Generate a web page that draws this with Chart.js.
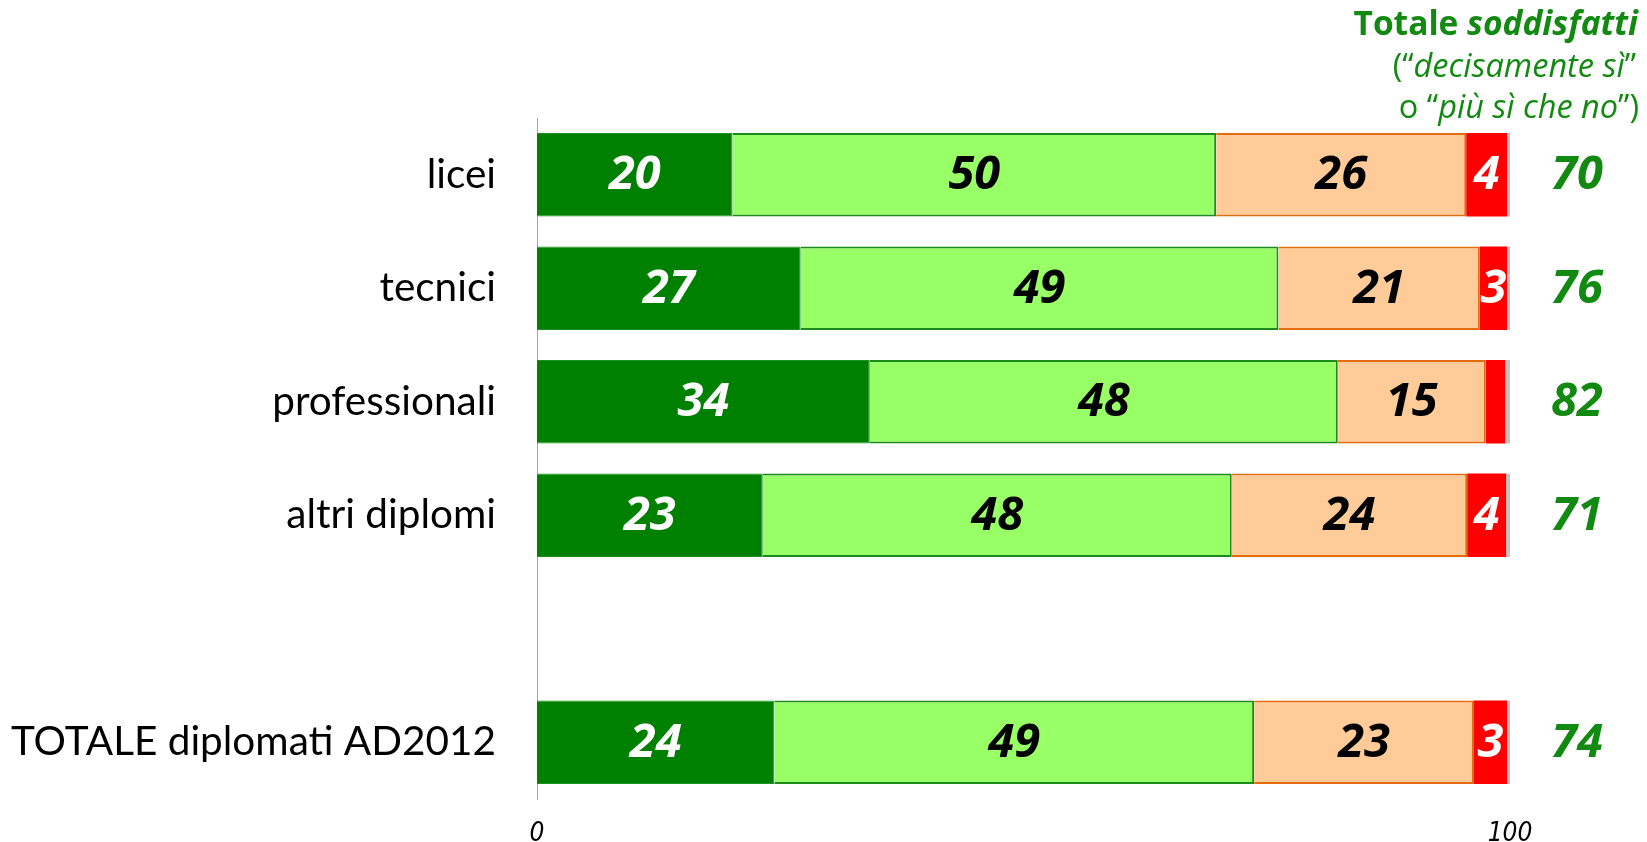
<!DOCTYPE html>
<html>
<head>
<meta charset="utf-8">
<script src="https://cdn.jsdelivr.net/npm/chart.js@4"></script>
<style>
  html, body { margin: 0; padding: 0; background: #fff; }
  #wrap { width: 1647px; height: 842px; }
</style>
</head>
<body>
<div id="wrap"><canvas id="grafico"></canvas></div>
<script>
// Categorie (la quinta riga e' vuota, fa da spazio prima del totale)
var categorie = ['licei', 'tecnici', 'professionali', 'altri diplomi', '', 'TOTALE diplomati AD2012'];

// Valori (percentuali)
var decisamenteSi = [20.1, 27.1, 34.2, 23.2, null, 24.4];
var piuSiCheNo    = [49.7, 49.1, 48.1, 48.2, null, 49.3];
var piuNoCheSi    = [25.7, 20.7, 15.2, 24.2, null, 22.6];
var decisamenteNo = [4.2, 2.8, 2.0, 4.0, null, 3.4];
var nonRisponde   = [0.3, 0.3, 0.5, 0.4, null, 0.3];

// Totale soddisfatti (colonna a destra)
var totali = [70, 76, 82, 71, null, 74];

// Tick dell'asse x
var tickAsseX = [0, 100];

var fontNumeri = 'Open Sans';
var fontTesto = 'Lato';
var verde = '#128a12';

// Etichette dentro le barre + totali a destra
var etichettePlugin = {
  id: 'etichette',
  afterDatasetsDraw: function (chart) {
    var ctx = chart.ctx;
    var coloriTesto = ['#ffffff', '#000000', '#000000', '#ffffff'];
    ctx.save();
    ctx.textAlign = 'center';
    ctx.textBaseline = 'middle';
    ctx.font = 'italic bold 47px "' + fontNumeri + '"';
    for (var d = 0; d < 4; d++) {
      var meta = chart.getDatasetMeta(d);
      meta.data.forEach(function (bar, i) {
        var v = chart.data.datasets[d].data[i];
        if (v === null || v < 2.5) return;
        ctx.fillStyle = coloriTesto[d];
        ctx.fillText(Math.round(v), bar.x - bar.width / 2, bar.y + 1);
      });
    }
    // totali
    var meta0 = chart.getDatasetMeta(0);
    ctx.fillStyle = verde;
    meta0.data.forEach(function (bar, i) {
      if (totali[i] === null) return;
      ctx.fillText(totali[i], chart.chartArea.right + 67, bar.y + 1);
    });
    ctx.restore();
  }
};

// Intestazione "Totale soddisfatti" in alto a destra
function scriviRiga(ctx, pezzi, destra, y) {
  var x = destra;
  for (var k = pezzi.length - 1; k >= 0; k--) {
    ctx.font = pezzi[k].f;
    var w = ctx.measureText(pezzi[k].t).width;
    x -= w;
    ctx.fillText(pezzi[k].t, x, y);
  }
}

var intestazionePlugin = {
  id: 'intestazione',
  afterDraw: function (chart) {
    var ctx = chart.ctx;
    var dim1 = '33.5px "Open Sans"';
    var dim = '32.5px "Open Sans"';
    ctx.save();
    ctx.fillStyle = verde;
    ctx.textAlign = 'left';
    ctx.textBaseline = 'middle';
    scriviRiga(ctx, [
      { t: 'Totale ', f: 'bold ' + dim1 },
      { t: 'soddisfatti', f: 'italic bold ' + dim1 }
    ], 1638, 25);
    scriviRiga(ctx, [
      { t: '(\u201C', f: dim },
      { t: 'decisamente s\u00EC', f: 'italic ' + dim },
      { t: '\u201D', f: dim }
    ], 1636, 68);
    scriviRiga(ctx, [
      { t: 'o \u201C', f: dim },
      { t: 'pi\u00F9 s\u00EC che no', f: 'italic ' + dim },
      { t: '\u201D)', f: dim }
    ], 1639, 109);
    ctx.restore();
  }
};

var bordo = 2;

new Chart(document.getElementById('grafico').getContext('2d'), {
  type: 'bar',
  data: {
    labels: categorie,
    datasets: [{
      label: 'decisamente sì',
      data: decisamenteSi,
      backgroundColor: '#008000',
      borderColor: '#1f8f1f',
      borderWidth: 1
    }, {
      label: 'più sì che no',
      data: piuSiCheNo,
      backgroundColor: '#99ff66',
      borderColor: '#1d8a1d',
      borderWidth: bordo
    }, {
      label: 'più no che sì',
      data: piuNoCheSi,
      backgroundColor: '#ffcc99',
      borderColor: '#e46c0a',
      borderWidth: bordo
    }, {
      label: 'decisamente no',
      data: decisamenteNo,
      backgroundColor: '#ff0000',
      borderWidth: 0
    }, {
      label: 'non risponde',
      data: nonRisponde,
      backgroundColor: '#c3c3c3',
      borderWidth: 0
    }]
  },
  options: {
    indexAxis: 'y',
    responsive: true,
    maintainAspectRatio: false,
    animation: false,
    barPercentage: 0.735,
    categoryPercentage: 1,
    layout: {
      padding: { top: 118, right: 137, left: 0, bottom: 0 }
    },
    scales: {
      x: {
        stacked: true,
        min: 0,
        max: 100,
        afterBuildTicks: function (scale) {
          scale.ticks = tickAsseX.map(function (v) { return { value: v }; });
        },
        afterFit: function (scale) {
          scale.height = 43;
        },
        grid: { display: false, drawTicks: false },
        border: { display: false },
        ticks: {
          padding: 20,
          color: '#000',
          maxRotation: 0,
          font: { family: '"Liberation Sans Narrow", "DejaVu Sans Condensed", "Roboto Condensed", Roboto, sans-serif', size: 26, style: 'italic' }
        }
      },
      y: {
        stacked: true,
        afterFit: function (scale) {
          scale.width = 537;
          // niente margine extra sopra/sotto dovuto alle etichette
          scale.paddingTop = 0;
          scale.paddingBottom = 0;
        },
        grid: { display: false, drawTicks: false },
        border: { display: true, color: '#a6a6a6', width: 1 },
        ticks: {
          padding: 41,
          color: '#000',
          autoSkip: false,
          font: { family: fontTesto, size: 40.5 }
        }
      }
    },
    plugins: {
      legend: { display: false },
      tooltip: { enabled: false }
    }
  },
  plugins: [etichettePlugin, intestazionePlugin]
});
</script>
</body>
</html>
